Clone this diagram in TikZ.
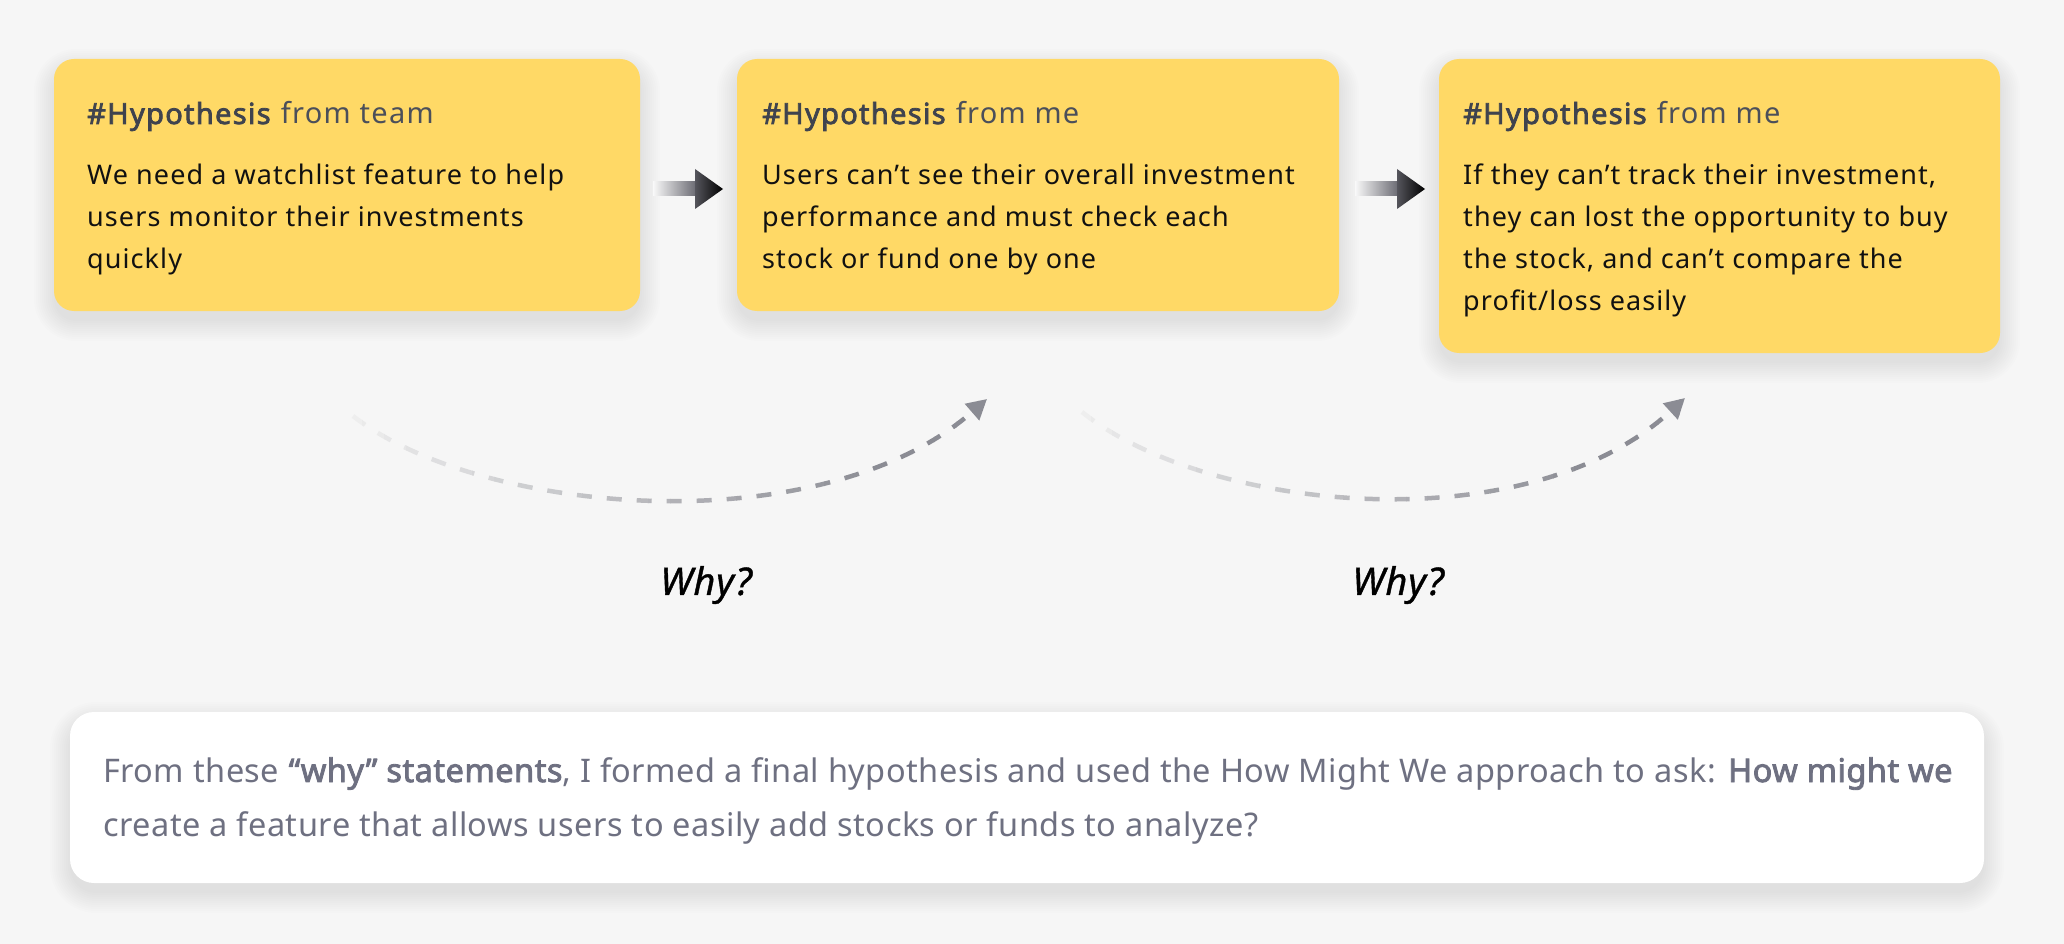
\documentclass[tikz,border=0pt]{standalone}
\usepackage{fontspec}
\setmainfont{Noto Sans}[BoldFont={Noto Sans}, BoldFeatures={FakeBold=1.6}]
\newfontfamily\bodyfont{Noto Sans}[LetterSpace=4, BoldFont={Noto Sans}, BoldFeatures={FakeBold=1.6}]
\newfontfamily\headfont{Noto Sans}[LetterSpace=4.5, BoldFont={Noto Sans}, BoldFeatures={FakeBold=2.6}]
\newfontfamily\finfont{Noto Sans}[LetterSpace=1.5, BoldFont={Noto Sans}, BoldFeatures={FakeBold=2.6}]
\newfontfamily\whyfont{Noto Sans}[LetterSpace=2, FakeBold=1.0]
\usetikzlibrary{arrows.meta,calc}
\definecolor{bg}{HTML}{F6F6F6}
\definecolor{note}{HTML}{FFD966}
\definecolor{headc}{HTML}{3F434E}
\definecolor{subc}{HTML}{4B4F5A}
\definecolor{bodyc}{HTML}{111111}
\definecolor{finc}{HTML}{6E7081}
\definecolor{cstart}{HTML}{EEEEEE}
\definecolor{cend}{HTML}{8B8C94}
\definecolor{ashaft}{HTML}{6E6E76}
\definecolor{ahead}{HTML}{55555C}
\pgfdeclarelayer{back}
\pgfdeclarelayer{shadow}
\pgfsetlayers{back,shadow,main}
\newcommand\gradarrow[2]{%
  \shade[left color=bg!70!white, right color=ashaft] ($(#1)+(0,-7)$) rectangle ($(#2)+(-28,7)$);
  \shade[left color=ahead, right color=black] ($(#2)+(-28,-20)$) -- (#2) -- ($(#2)+(-28,20)$) -- cycle;}
\newcommand\softshadow[2]{%
  \begin{pgfonlayer}{shadow}
  \foreach \k in {1,...,11}{
    \fill[black, opacity=0.0075, rounded corners=#2+\k*2]
      ($(#1.north west)+(-\k*2+2,-\k*2+12)$) rectangle ($(#1.south east)+(\k*2-2,\k*2+8)$);}
  \end{pgfonlayer}}
\begin{document}
\begin{tikzpicture}[x=1pt,y=-1pt,
  notebox/.style={fill=note, rounded corners=20pt, inner sep=0pt, outer sep=0pt, anchor=north west},
  finbox/.style={fill=white, rounded corners=24pt, inner sep=0pt, outer sep=0pt, anchor=north west},
  headtxt/.style={anchor=base west, inner sep=0pt, font=\headfont\fontsize{29}{32}\selectfont, text=headc},
  bodytxt/.style={anchor=base west, inner sep=0pt, text=bodyc},
  whytxt/.style={inner sep=0pt, font=\whyfont\fontsize{38}{42}\selectfont\itshape, text=black},
  whyline/.style={line width=4.5pt, dash pattern=on 15pt off 15pt, -{Triangle[length=20pt,width=21pt]}}
]
\begin{pgfonlayer}{back}
\fill[bg] (0,0) rectangle (2064,944);
\end{pgfonlayer}
\useasboundingbox (0,0) rectangle (2064,944);

% note boxes
\node[notebox, minimum width=586pt, minimum height=252pt] (b1) at (54,59) {};
\node[notebox, minimum width=602pt, minimum height=252pt] (b2) at (737,59) {};
\node[notebox, minimum width=561pt, minimum height=294pt] (b3) at (1439,59) {};
\softshadow{b1}{20}
\softshadow{b2}{20}
\softshadow{b3}{20}

\node[headtxt] (b1h) at ($(b1.north west)+(33,65)$) {\textbf{\#Hypothesis} {\color{subc}from team}};
\node[headtxt] (b2h) at ($(b2.north west)+(25,65)$) {\textbf{\#Hypothesis} {\color{subc}from me}};
\node[headtxt] (b3h) at ($(b3.north west)+(24,65)$) {\textbf{\#Hypothesis} {\color{subc}from me}};

\node[bodytxt] (b1t) at ($(b1h.base west)+(0,61)$) {\parbox[t]{560pt}{\bodyfont\fontsize{27}{42}\selectfont\raggedright
  We need a watchlist feature to help\\users monitor their investments\\quickly}};
\node[bodytxt] (b2t) at ($(b2h.base west)+(0,61)$) {\parbox[t]{580pt}{\bodyfont\fontsize{27}{42}\selectfont\raggedright
  Users can’t see their overall investment\\performance and must check each\\stock or fund one by one}};
\node[bodytxt] (b3t) at ($(b3h.base west)+(0,61)$) {\parbox[t]{540pt}{\bodyfont\fontsize{27}{42}\selectfont\raggedright
  If they can’t track their investment,\\they can lost the opportunity to buy\\the stock, and can’t compare the\\profit/loss easily}};

% gradient arrows between boxes
\coordinate (a1s) at ($(b1.east)+(13,4)$);
\coordinate (a1t) at ($(b2.west |- a1s)+(-14,0)$);
\coordinate (a2s) at ($(b2.east)+(16,4)$);
\coordinate (a2t) at ($(b3.west |- a2s)+(-14,0)$);
\gradarrow{a1s}{a1t}
\gradarrow{a2s}{a2t}

% dashed "why" curves
\coordinate (c1s) at (353,416);
\coordinate (c1e) at (987,399);
\coordinate (c2s) at (1082,412);
\coordinate (c2e) at (1685,398);
\foreach \i in {0,...,29} {
  \pgfmathsetmacro\xa{340+\i*22}
  \pgfmathsetmacro\xb{\xa+22.5}
  \pgfmathtruncatemacro\p{min(100,\i*100/24)}
  \begin{scope}
    \clip (\xa,330) rectangle (\xb,600);
    \draw[whyline, draw=cend!\p!cstart] (c1s) .. controls (480,515) and (820,545) .. (c1e);
  \end{scope}
}
\foreach \i in {0,...,29} {
  \pgfmathsetmacro\xa{1070+\i*21}
  \pgfmathsetmacro\xb{\xa+21.5}
  \pgfmathtruncatemacro\p{min(100,\i*100/24)}
  \begin{scope}
    \clip (\xa,330) rectangle (\xb,600);
    \draw[whyline, draw=cend!\p!cstart] (c2s) .. controls (1205,511) and (1525,545) .. (c2e);
  \end{scope}
}
\node[whytxt] (w1) at (706,585) {Why?};
\node[whytxt] (w2) at (1398,585) {Why?};

% final statement box
\node[finbox, minimum width=1914pt, minimum height=171pt] (fin) at (70,712) {};
\softshadow{fin}{24}
\node[anchor=base west, inner sep=0pt, text=finc] (fint) at ($(fin.north west)+(33,70)$) {\parbox[t]{1900pt}{\finfont\fontsize{32.5}{54}\selectfont\raggedright
  From these \textbf{“why” statements}, I formed a final hypothesis and used the How Might We approach to ask: \textbf{How might we}\\create a feature that allows users to easily add stocks or funds to analyze?}};
\end{tikzpicture}
\end{document}
